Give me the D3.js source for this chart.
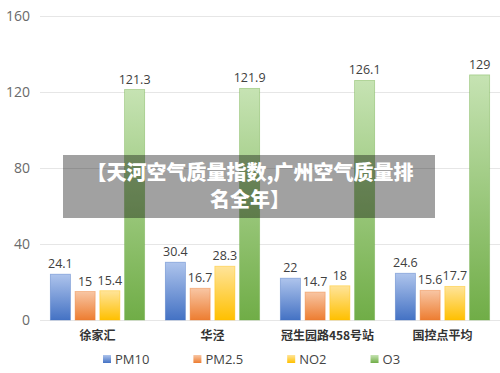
<!DOCTYPE html>
<html>
<head>
<meta charset="utf-8">
<script src="https://cdn.jsdelivr.net/npm/d3@7"></script>
<style>
	body { margin: 0; background: #fff; }
	svg { display: block; font-family: "Open Sans", "Noto Sans CJK SC", sans-serif; }
</style>
</head>
<body>
<svg width="500" height="373"></svg>
<script>
const categories = ["徐家汇", "华泾", "冠生园路458号站", "国控点平均"];
const seriesNames = ["PM10", "PM2.5", "NO2", "O3"];
const pm10 = [24.1, 30.4, 22, 24.6];
const pm25 = [15, 16.7, 14.7, 15.6];
const no2 = [15.4, 28.3, 18, 17.7];
const o3 = [121.3, 121.9, 126.1, 129];
const yTicks = [0, 40, 80, 120, 160];
const title = ["【天河空气质量指数,广州空气质量排", "名全年】"];

const colors = {
	PM10: ["#aec4ec", "#4472c4"],
	"PM2.5": ["#f8c6a4", "#ed7d31"],
	NO2: ["#ffe49a", "#ffc000"],
	O3: ["#c6e3b3", "#70ad47"]
};

const data = categories.map((c, i) => ({
	cat: c,
	values: [pm10[i], pm25[i], no2[i], o3[i]].map((v, j) => ({ key: seriesNames[j], value: v }))
}));

const svg = d3.select("svg");
const margin = { left: 40, right: 0, top: 16, bottom: 53 };
const width = 500, height = 373;

const x0 = d3.scaleBand().domain(categories).range([margin.left, width - margin.right])
	.paddingInner(0.18).paddingOuter(0.09);
const x1 = d3.scaleBand().domain(seriesNames).range([0, x0.bandwidth()]).paddingInner(0.19);
const y = d3.scaleLinear().domain([0, 160]).range([320, 16]);

const defs = svg.append("defs");
seriesNames.forEach((s, i) => {
	const g = defs.append("linearGradient").attr("id", "grad" + i)
		.attr("x1", 0).attr("y1", 0).attr("x2", 0).attr("y2", 1);
	g.append("stop").attr("offset", "0%").attr("stop-color", colors[s][0]);
	g.append("stop").attr("offset", "100%").attr("stop-color", colors[s][1]);
});

// grid + y axis
const yAxis = svg.append("g").attr("transform", `translate(${margin.left},0)`)
	.call(d3.axisLeft(y).tickValues(yTicks).tickSize(-(width - margin.left)).tickPadding(10));
yAxis.select(".domain").remove();
yAxis.selectAll(".tick line").attr("stroke", "#e6e6e6");
yAxis.selectAll(".tick text").attr("fill", "#6a6a6a").style("font-size", "14px")
	.style("font-family", "'Open Sans', sans-serif");

// bars
const groups = svg.selectAll(".grp").data(data).enter().append("g")
	.attr("transform", (d) => `translate(${x0(d.cat)},0)`);

groups.selectAll("rect").data((d) => d.values).enter().append("rect")
	.attr("x", (d) => x1(d.key))
	.attr("y", (d) => y(d.value))
	.attr("width", x1.bandwidth())
	.attr("height", (d) => y(0) - y(d.value))
	.attr("fill", (d, i) => `url(#grad${i})`)
	.attr("stroke", (d) => colors[d.key][1])
	.attr("stroke-opacity", 0.5)
	.attr("stroke-width", 0.8);

groups.selectAll(".lbl").data((d) => d.values).enter().append("text")
	.attr("x", (d) => x1(d.key) + x1.bandwidth() / 2)
	.attr("y", (d) => y(d.value) - 6)
	.attr("text-anchor", "middle")
	.attr("fill", "#404040")
	.style("font-size", "12.5px")
	.text((d) => d.value);

// x labels
svg.selectAll(".xl").data(categories).enter().append("text")
	.attr("x", (d) => x0(d) + x0.bandwidth() / 2)
	.attr("y", 340)
	.attr("text-anchor", "middle")
	.attr("fill", "#333")
	.style("font-size", "12px")
	.style("font-weight", "bold")
	.style("font-family", "'Noto Sans CJK SC', sans-serif")
	.text((d) => d);

// legend
const legend = svg.append("g");
let lx = 103;
seriesNames.forEach((s, i) => {
	const item = legend.append("g").attr("transform", `translate(${lx},355)`);
	item.append("rect").attr("width", 8).attr("height", 8).attr("fill", `url(#grad${i})`);
	const t = item.append("text").attr("x", 12).attr("y", 8.5)
		.attr("fill", "#444").style("font-size", "13px").text(s);
	lx += 12 + t.node().getComputedTextLength() + 44;
});

// overlay banner
svg.append("rect").attr("x", 63).attr("y", 155).attr("width", 372).attr("height", 63)
	.attr("fill", "rgba(0,0,0,0.37)");
svg.selectAll(".tt").data(title).enter().append("text")
	.attr("x", 250)
	.attr("y", (d, i) => 180 + i * 27)
	.attr("text-anchor", "middle")
	.attr("fill", "#fff")
	.style("font-size", "20px")
	.style("font-weight", "900")
	.style("font-family", "'Noto Sans CJK SC', sans-serif")
	.text((d) => d);
</script>
</body>
</html>
